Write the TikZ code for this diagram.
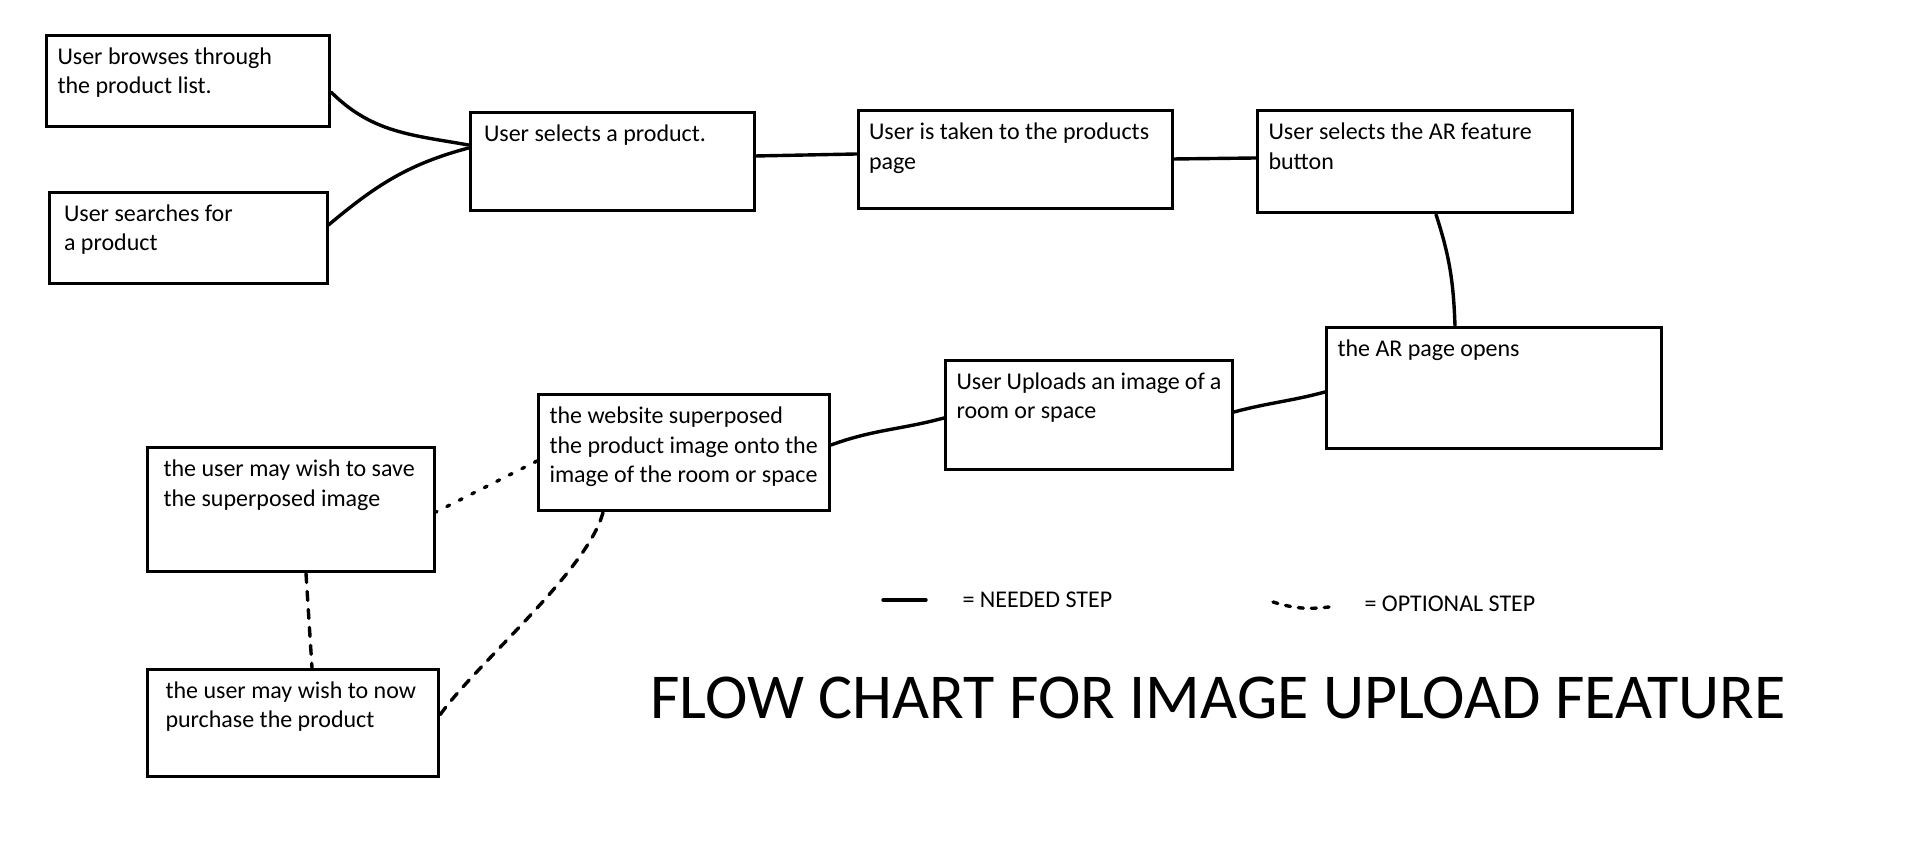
\documentclass[tikz,border=0pt]{standalone}
\usepackage{fontspec}
\setmainfont{Carlito}
\usetikzlibrary{positioning}
\newcommand{\stepfont}{\fontsize{24}{29.4}\selectfont}
\newcommand{\steptext}[4][0]{\parbox[t][\dimexpr#3pt-24pt\relax][t]{\dimexpr#2pt-22pt\relax}{\raggedright\leftskip=#1pt\relax #4}}

\begin{document}
\begin{tikzpicture}[x=1pt, y=1pt,
          stepbox/.style={draw, line width=3pt, inner xsep=11pt, inner ysep=12pt, font=\stepfont},
          link/.style={line width=3.4pt, line cap=round},
          optlink/.style={link, dash pattern=on 9pt off 9pt},
          dotlink/.style={link, dash pattern=on 3pt off 11pt},
          legend/.style={anchor=west, font=\stepfont}
        ]
        \useasboundingbox (0,0) rectangle (1920,853);

        \node[stepbox] (browse)  at (188,772)  {\steptext{283}{91}{User browses through\\the product list.}};
        \node[stepbox] (search)  at (188,615)  {\steptext[4]{278}{91}{User searches for\\a product}};
        \node[stepbox] (select)  at (612,691)  {\steptext[3]{284}{98}{User selects a product.}};
        \node[stepbox] (page)    at (1015,693) {\steptext{314}{98}{User is taken to the products\\page}};
        \node[stepbox] (arbtn)   at (1415,691) {\steptext{315}{102}{User selects the AR feature\\button}};
        \node[stepbox] (aropen)  at (1494,465) {\steptext{335}{121}{the AR page opens}};
        \node[stepbox] (upload)  at (1089,438) {\steptext{287}{109}{User Uploads an image of a\\room or space}};
        \node[stepbox] (overlay) at (684,400)  {\steptext{291}{116}{the website superposed\\the product image onto the\\image of the room or space}};
        \node[stepbox] (save)    at (291,343)  {\steptext[5]{287}{124}{the user may wish to save\\the superposed image}};
        \node[stepbox] (buy)     at (293,130)  {\steptext[7]{291}{107}{the user may wish to now\\purchase the product}};

        \draw[link] ([yshift=-11pt]browse.east) to[out=-45, in=170] ([yshift=17pt]select.west);
        \draw[link] ([yshift=13pt]search.east)  to[out=40, in=195]  ([yshift=14pt]select.west);
        \draw[link] ([yshift=6pt]select.east)   -- ([yshift=6pt]page.west);
        \draw[link] ([yshift=1pt]page.east)     -- ([yshift=4pt]arbtn.west);
        \draw[link] ([xshift=21pt]arbtn.south)  to[out=-72, in=92] ([xshift=-39pt]aropen.north);
        \draw[link] ([yshift=-4pt]aropen.west)  to[out=195, in=15] ([yshift=3pt]upload.east);
        \draw[link] ([yshift=-3pt]upload.west)  to[out=195, in=20] ([yshift=8pt]overlay.east);

        \draw[dotlink] ([yshift=-8pt]overlay.west) -- ([yshift=-2pt]save.east);
        \draw[optlink] ([xshift=-81pt]overlay.south) to[out=-105, in=55, looseness=0.6] ([yshift=8pt]buy.east);
        \draw[optlink] ([xshift=15pt]save.south) -- ([xshift=19pt]buy.north);

        \node[legend] (needed)   at (959,253)  {= NEEDED STEP};
        \node[legend] (optional) at (1361,249) {= OPTIONAL STEP};
        \draw[link] ([xshift=-76pt]needed.west) -- ([xshift=-33pt]needed.west);
        \draw[link, dash pattern=on 5pt off 8pt] ([xshift=-88pt,yshift=2pt]optional.west) to[bend right=12] ([xshift=-32pt,yshift=-3pt]optional.west);

        \node[font=\fontsize{64}{77}\selectfont] (title) at (1218,155) {FLOW CHART FOR IMAGE UPLOAD FEATURE};
      \end{tikzpicture}
\end{document}
